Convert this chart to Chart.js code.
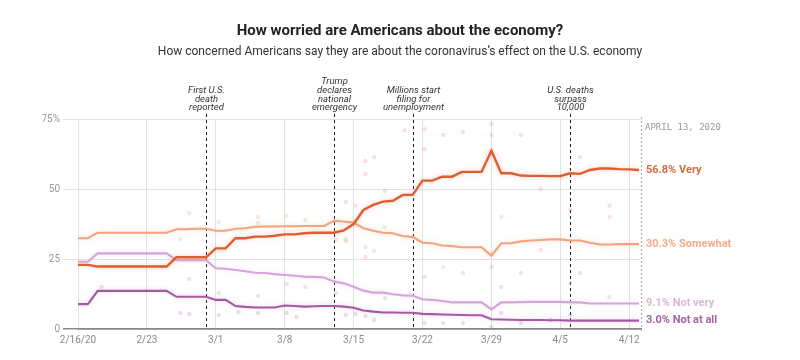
<!DOCTYPE html>
<html>
<head>
<meta charset="utf-8">
<script src="https://cdn.jsdelivr.net/npm/chart.js@4.4.1/dist/chart.umd.min.js"></script>
<style>
  html, body { margin: 0; padding: 0; background: #fff; }
  #wrap { width: 800px; height: 360px; position: relative; }
  #title, #subtitle { position: absolute; left: 0; width: 800px; text-align: center; font-family: Roboto, sans-serif; white-space: nowrap; }
  #title { top: 21px; line-height: 18px; font-size: 15px; font-weight: bold; color: #222; }
  #subtitle { top: 44px; line-height: 15px; font-size: 12px; color: #333; }
</style>
</head>
<body>
<div id="wrap">
  <canvas id="chart"></canvas>
  <div id="title">How worried are Americans about the economy?</div>
  <div id="subtitle">How concerned Americans say they are about the coronavirus’s effect on the U.S. economy</div>
</div>
<script>
// day 0 = Feb 16, 2020, one value per day through Apr 13
const seriesNames = ["Very", "Somewhat", "Not very", "Not at all"];

const veryVals = [
  22.9, 22.9, 22.3, 22.3, 22.3, 22.3, 22.3,
  22.3, 22.3, 22.3, 25.6, 25.6, 25.6, 25.6,
  28.8, 28.8, 32.4, 32.4, 33.0, 33.0, 33.3,
  33.8, 33.8, 34.2, 34.4, 34.4, 34.4, 35.2,
  37.5, 42.5, 44.3, 45.5, 45.8, 47.9, 47.9,
  53.0, 53.0, 54.4, 54.4, 56.1, 56.1, 56.1,
  63.7, 55.6, 55.6, 54.8, 54.7, 54.7, 54.6,
  54.6, 55.6, 55.4, 56.8, 57.3, 57.3, 57.1,
  57.0, 56.8
];
const somewhatVals = [
  32.4, 32.4, 34.4, 34.4, 34.4, 34.4, 34.4,
  34.4, 34.4, 34.4, 35.6, 35.6, 35.8, 35.8,
  35.1, 35.1, 35.8, 36.0, 36.5, 36.6, 36.6,
  36.7, 36.7, 36.8, 36.8, 36.8, 38.6, 38.4,
  38.0, 36.0, 35.1, 34.4, 34.2, 33.2, 32.9,
  30.8, 30.6, 29.8, 29.6, 29.2, 29.2, 29.2,
  26.2, 30.6, 30.6, 31.3, 31.6, 31.8, 32.0,
  32.0, 31.6, 31.6, 30.8, 30.2, 30.2, 30.3,
  30.3, 30.3
];
const notVeryVals = [
  24.0, 24.0, 27.0, 27.0, 27.0, 27.0, 27.0,
  27.0, 27.0, 27.0, 24.6, 24.6, 24.6, 24.6,
  21.7, 21.5, 21.1, 20.6, 20.1, 20.0, 19.6,
  19.3, 19.0, 18.7, 18.6, 18.4, 17.0, 16.3,
  15.1, 13.7, 13.0, 13.0, 12.4, 12.0, 11.9,
  10.6, 10.4, 10.0, 9.5, 9.5, 9.5, 9.5,
  7.0, 9.5, 9.5, 9.6, 9.7, 9.7, 9.7,
  9.7, 9.5, 9.5, 9.1, 9.1, 9.1, 9.1,
  9.1, 9.1
];
const notAtAllVals = [
  8.9, 8.9, 13.6, 13.6, 13.6, 13.6, 13.6,
  13.6, 13.6, 13.6, 11.5, 11.5, 11.5, 11.5,
  10.4, 10.4, 8.2, 7.9, 7.7, 7.7, 7.7,
  8.4, 8.2, 8.0, 8.1, 8.2, 8.2, 8.0,
  7.6, 6.6, 6.2, 5.9, 5.9, 5.8, 5.8,
  5.4, 5.3, 5.2, 5.1, 5.0, 4.9, 4.9,
  3.5, 3.4, 3.3, 3.2, 3.2, 3.2, 3.1,
  3.1, 3.0, 3.0, 3.0, 3.0, 3.0, 3.0,
  3.0, 3.0
];

// individual polls [day, value]
const veryPolls = [[27.2,45.4],[28.2,44],[29.2,60],[29.2,55.4],[30.1,61.4],[31.2,49.3],[33.2,71],
  [35.2,71.4],[35.2,64.3],[37.1,69.3],[39.1,70.4],[42,73.2],[42,69.3],[45,69.3],[51,61.4],
  [47,50],[50,42.5],[54,44]];
const somewhatPolls = [[10.4,32.1],[11.3,41.4],[14.3,38.2],[18.3,40],[18.3,37.9],[21.2,40.4],[23.1,38.9],
  [26.2,32],[27.2,32.1],[27.2,31.4],[29.2,29.3],[30.1,27.9],[29.2,25.7],[31.2,36.4],[43,40],
  [47,28.2],[54,40],[37.1,22.1]];
const notVeryPolls = [[11.3,17.9],[14.3,12.9],[18.3,11.8],[21.2,16],[23.1,15],[26.2,12.9],[39.1,20],
  [42,22.1],[43,15],[45,20],[51,20],[50,16.4],[35.2,18.6],[31.2,11],[54,11.4]];
const notAtAllPolls = [[2.4,15.1],[10.4,5.7],[11.3,5.4],[14.3,5],[16.3,6],[18.3,5.7],[21.2,5.7],[22.2,4.3],
  [27.2,5],[29.2,4.6],[30.1,3.2],[28.2,5.4],[35.2,2.1],[37.1,2.1],[39.1,2.1],[42,0.7],[45,2.1],
  [48,3.2],[50,5],[43,5.7]];

const tickLabels = ["2/16/20", "2/23", "3/1", "3/8", "3/15", "3/22", "3/29", "4/5", "4/12"];
const lastDay = 57.2;

const events = [
  { day: 13, text: ["First U.S.", "death", "reported"] },
  { day: 26, text: ["Trump", "declares", "national", "emergency"] },
  { day: 34, text: ["Millions start", "filing for", "unemployment"] },
  { day: 50, text: ["U.S. deaths", "surpass", "10,000"] }
];

const lineColors = ["#dc5e33", "#f2a47f", "#d4a6d8", "#a45aa2"];
const labelColors = ["#d8693f", "#f2ad8c", "#d9b5dc", "#a563a5"];
const glowColors = ["rgba(240,140,110,0.45)", "rgba(248,190,165,0.5)", "rgba(230,200,235,0.55)", "rgba(200,150,200,0.45)"];
const dotColors = ["rgba(225,120,95,0.22)", "rgba(240,160,130,0.28)", "rgba(205,160,212,0.32)", "rgba(175,110,175,0.25)"];

const allVals = [veryVals, somewhatVals, notVeryVals, notAtAllVals];
const allPolls = [veryPolls, somewhatPolls, notVeryPolls, notAtAllPolls];

const lineSets = allVals.map((vals, i) => ({
  label: seriesNames[i],
  data: vals.map((v, d) => ({ x: d, y: v })),
  showLine: true,
  borderColor: lineColors[i],
  borderWidth: i === 0 ? 2.4 : 2.1,
  pointRadius: 0,
  tension: 0,
  glowColor: glowColors[i]
}));
const dotSets = allPolls.map((pts, i) => ({
  label: seriesNames[i] + " polls",
  data: pts.map(p => ({ x: p[0], y: p[1] })),
  showLine: false,
  pointRadius: 2.2,
  pointBorderWidth: 0,
  backgroundColor: dotColors[i],
  borderColor: dotColors[i]
}));

const glow = {
  id: "glow",
  beforeDatasetDraw(chart, args) {
    const ds = chart.data.datasets[args.index];
    if (!ds.glowColor) return;
    chart.ctx.save();
    chart.ctx.shadowColor = ds.glowColor;
    chart.ctx.shadowBlur = 5;
  },
  afterDatasetDraw(chart, args) {
    const ds = chart.data.datasets[args.index];
    if (!ds.glowColor) return;
    chart.ctx.restore();
  }
};

const annotations = {
  id: "annotations",
  beforeDatasetsDraw(chart) {
    const { ctx, chartArea, scales: { x } } = chart;
    ctx.save();

    // date line at right edge
    ctx.strokeStyle = "#b0b0b0";
    ctx.lineWidth = 1.2;
    ctx.setLineDash([2, 2]);
    ctx.beginPath();
    ctx.moveTo(chartArea.right + 0.5, chartArea.top - 2);
    ctx.lineTo(chartArea.right + 0.5, chartArea.bottom + 4);
    ctx.stroke();

    ctx.font = "9px 'DejaVu Sans Mono'";
    ctx.fillStyle = "#999";
    ctx.textAlign = "left";
    ctx.textBaseline = "middle";
    ctx.fillText("APRIL 13, 2020", chartArea.right + 4, chartArea.top + 9);

    // event lines
    ctx.strokeStyle = "#222";
    ctx.lineWidth = 1;
    ctx.setLineDash([3, 3]);
    ctx.font = "italic 9.5px Roboto";
    ctx.fillStyle = "#333";
    ctx.textAlign = "center";
    events.forEach(ev => {
      const px = Math.round(x.getPixelForValue(ev.day)) + 0.5;
      ctx.beginPath();
      ctx.moveTo(px, chartArea.top - 5);
      ctx.lineTo(px, chartArea.bottom);
      ctx.stroke();
      const n = ev.text.length;
      ev.text.forEach((t, k) => {
        ctx.fillText(t, px, chartArea.top - 11 - (n - 1 - k) * 8.8);
      });
    });
    ctx.restore();
  },
  afterDatasetsDraw(chart) {
    const { ctx, chartArea, scales: { y } } = chart;
    ctx.save();
    ctx.font = "bold 11px Roboto";
    ctx.textAlign = "left";
    ctx.textBaseline = "middle";
    allVals.forEach((vals, i) => {
      const v = vals[vals.length - 1];
      ctx.fillStyle = labelColors[i];
      ctx.fillText(v.toFixed(1) + "% " + seriesNames[i], chartArea.right + 5, y.getPixelForValue(v));
    });
    ctx.restore();
  }
};

new Chart(document.getElementById("chart"), {
  type: "scatter",
  data: { datasets: lineSets.concat(dotSets) },
  options: {
    responsive: true,
    maintainAspectRatio: false,
    animation: false,
    devicePixelRatio: 1,
    layout: { padding: { top: 119, right: 159, bottom: 0, left: 0 } },
    plugins: {
      legend: { display: false },
      tooltip: { enabled: false }
    },
    scales: {
      x: {
        type: "linear",
        min: 0,
        max: lastDay,
        afterBuildTicks(scale) {
          scale.ticks = tickLabels.map((_, i) => ({ value: i * 7 }));
        },
        afterFit(scale) { scale.height = 31; },
        ticks: {
          autoSkip: false,
          maxRotation: 0,
          padding: 5,
          color: "#888",
          font: { family: "Roboto", size: 10 },
          callback: (v) => tickLabels[Math.round(v / 7)]
        },
        grid: { color: "#e2e2e2", drawTicks: false },
        border: { display: true, color: "#888", width: 1.5 }
      },
      y: {
        min: 0,
        max: 75,
        afterFit(scale) { scale.width = 78; },
        ticks: {
          stepSize: 25,
          padding: 3,
          color: "#999",
          font: { family: "Roboto", size: 10 },
          callback: (v) => v === 75 ? "75%" : String(v)
        },
        grid: {
          tickLength: 15,
          color: (c) => c.tick && c.tick.value === 0 ? "#888" : "#e2e2e2",
          lineWidth: (c) => c.tick && c.tick.value === 0 ? 1.5 : 1
        },
        border: { display: false }
      }
    }
  },
  plugins: [glow, annotations]
});
</script>
</body>
</html>
